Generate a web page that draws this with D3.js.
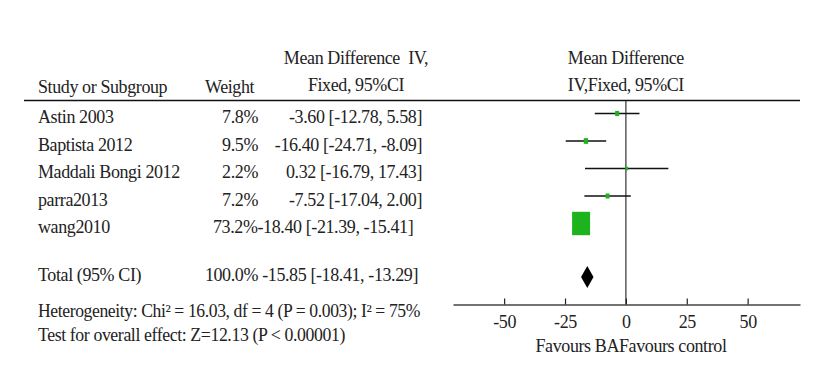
<!DOCTYPE html>
<html>
<head>
<meta charset="utf-8">
<script src="https://cdn.jsdelivr.net/npm/d3@7"></script>
<style>
    body { margin: 0; background: #fff; }
    text { font-family: "Liberation Serif", "Times New Roman", serif; font-size: 18px; fill: #222; letter-spacing: -0.4px; }
</style>
</head>
<body>
<div id="chart"></div>
<script>
//Data
var studies = ["Astin 2003", "Baptista 2012", "Maddali Bongi 2012", "parra2013", "wang2010"];
var weights = [7.8, 9.5, 2.2, 7.2, 73.2];
var meanDiff = [-3.60, -16.40, 0.32, -7.52, -18.40];
var ciLow = [-12.78, -24.71, -16.79, -17.04, -21.39];
var ciHigh = [5.58, -8.09, 17.43, 2.00, -15.41];
var total = { weight: 100.0, md: -15.85, low: -18.41, high: -13.29 };
var tickValues = [-50, -25, 0, 25, 50];
var heterogeneity = "Heterogeneity: Chi\u00b2 = 16.03, df = 4 (P = 0.003); I\u00b2 = 75%";
var overallTest = "Test for overall effect: Z=12.13 (P < 0.00001)";

function init() {
    var w = 831;
    var h = 369;
    var axisY = 304.5;

    var svg = d3.select("#chart")
        .append("svg")
        .attr("width", w)
        .attr("height", h);

    var xScale = d3.scaleLinear()
        .domain([-71, 71.5])
        .range([453, 800]);

    //row positions
    var yScale = d3.scaleLinear()
        .domain([0, 4])
        .range([113.5, 223.5]);

    var boxW = d3.scaleLinear()
        .domain([7.8, 73.2])
        .range([4, 18]);

    //plain hyphen for negatives, like the reference
    var locale = d3.formatLocale({ decimal: ".", thousands: ",", grouping: [3], currency: ["", ""], minus: "-" });
    var fmt = locale.format(".2f");
    var fmt1 = locale.format(".1f");
    function ciText(m, lo, hi) {
        return fmt(m) + " [" + fmt(lo) + ", " + fmt(hi) + "]";
    }

    //headers
    svg.append("text").attr("x", 38).attr("y", 93).text("Study or Subgroup");
    svg.append("text").attr("x", 205).attr("y", 93).text("Weight");
    svg.append("text").attr("x", 356).attr("y", 64).attr("text-anchor", "middle")
        .style("white-space", "pre").text("Mean Difference  IV,");
    svg.append("text").attr("x", 356).attr("y", 91).attr("text-anchor", "middle").text("Fixed, 95%CI");
    svg.append("text").attr("x", xScale(0)).attr("y", 64).attr("text-anchor", "middle").text("Mean Difference");
    svg.append("text").attr("x", xScale(0)).attr("y", 91).attr("text-anchor", "middle").text("IV,Fixed, 95%CI");

    svg.append("line")
        .attr("x1", 24).attr("x2", 800)
        .attr("y1", 100.5).attr("y2", 100.5)
        .style("stroke", "#111")
        .style("stroke-width", 1.5);

    //study rows
    studies.forEach(function (s, i) {
        var y = yScale(i) + 9.5;
        svg.append("text").attr("x", 38).attr("y", y).text(s);
        if (i === studies.length - 1) {
            svg.append("text").attr("x", 213).attr("y", y)
                .text(fmt1(weights[i]) + "%" + ciText(meanDiff[i], ciLow[i], ciHigh[i]));
        } else {
            svg.append("text").attr("x", 258).attr("y", y).attr("text-anchor", "end")
                .text(fmt1(weights[i]) + "%");
            svg.append("text").attr("x", 422).attr("y", y).attr("text-anchor", "end")
                .text(ciText(meanDiff[i], ciLow[i], ciHigh[i]));
        }
    });

    //total row
    svg.append("text").attr("x", 38).attr("y", 281).text("Total (95% CI)");
    svg.append("text").attr("x", 258).attr("y", 281).attr("text-anchor", "end").text(fmt1(total.weight) + "%");
    svg.append("text").attr("x", 418).attr("y", 281).attr("text-anchor", "end")
        .text(ciText(total.md, total.low, total.high));
    svg.append("text").attr("x", 38).attr("y", 317)
        .attr("textLength", 382).attr("lengthAdjust", "spacingAndGlyphs")
        .text(heterogeneity);
    svg.append("text").attr("x", 38).attr("y", 341)
        .attr("textLength", 307).attr("lengthAdjust", "spacingAndGlyphs")
        .text(overallTest);

    //zero line
    svg.append("line")
        .attr("x1", xScale(0)).attr("x2", xScale(0))
        .attr("y1", 101).attr("y2", axisY)
        .style("stroke", "#333")
        .style("stroke-width", 1.2);

    //CI lines
    svg.selectAll(".ci")
        .data(studies)
        .enter()
        .append("line")
        .attr("class", "ci")
        .attr("x1", function (d, i) { return xScale(ciLow[i]); })
        .attr("x2", function (d, i) { return xScale(ciHigh[i]); })
        .attr("y1", function (d, i) { return yScale(i); })
        .attr("y2", function (d, i) { return yScale(i); })
        .style("stroke", "#111")
        .style("stroke-width", 1.3);

    //boxes
    svg.selectAll(".box")
        .data(studies)
        .enter()
        .append("rect")
        .attr("class", "box")
        .attr("x", function (d, i) { return xScale(meanDiff[i]) - boxW(weights[i]) / 2; })
        .attr("y", function (d, i) { return yScale(i) - boxW(weights[i]) * 0.65; })
        .attr("width", function (d, i) { return boxW(weights[i]); })
        .attr("height", function (d, i) { return boxW(weights[i]) * 1.3; })
        .style("fill", "#1db31d");

    //diamond
    var dy = 277;
    svg.append("path")
        .attr("d", "M" + xScale(total.low) + "," + dy +
            "L" + xScale(total.md) + "," + (dy - 11) +
            "L" + xScale(total.high) + "," + dy +
            "L" + xScale(total.md) + "," + (dy + 11) + "Z")
        .style("fill", "#000");

    //axis
    var xAxis = d3.axisBottom(xScale)
        .tickValues(tickValues)
        .tickFormat(locale.format("d"))
        .tickSizeInner(-6)
        .tickSizeOuter(0)
        .tickPadding(11);

    var g = svg.append("g")
        .attr("transform", "translate(0," + axisY + ")")
        .call(xAxis);
    g.select(".domain").style("stroke", "#444").style("stroke-width", 1.5);
    g.selectAll(".tick line").style("stroke", "#222").style("stroke-width", 1.2);
    g.selectAll(".tick text")
        .style("font-family", "'Liberation Serif', serif")
        .style("font-size", "18px")
        .style("fill", "#222");

    svg.append("text")
        .attr("x", 631).attr("y", 352)
        .attr("text-anchor", "middle")
        .text("Favours BAFavours control");
}

window.onload = init;
</script>
</body>
</html>
